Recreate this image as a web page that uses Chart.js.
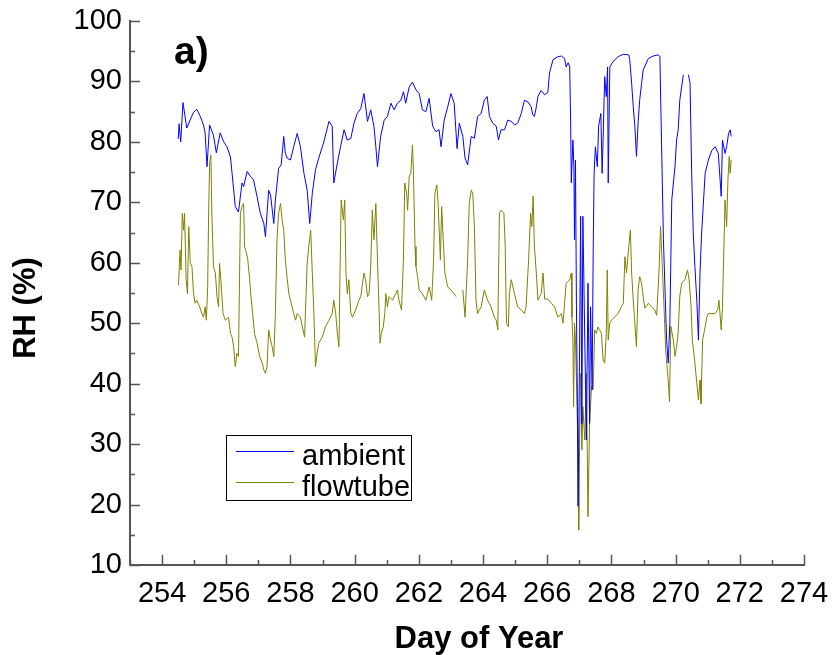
<!DOCTYPE html>
<html>
<head>
<meta charset="utf-8">
<script src="https://cdn.jsdelivr.net/npm/chart.js@4"></script>
<style>
  html, body { margin: 0; padding: 0; background: #fff; }
  #wrap { width: 834px; height: 655px; }
</style>
</head>
<body>
<div id="wrap"><canvas id="rhChart" width="834" height="655"></canvas></div>
<script>
// ambient RH (day of year, %)
const ambientDay = [254.50, 254.53, 254.58, 254.65, 254.77, 254.97, 255.08, 255.19, 255.29, 255.34, 255.40, 255.48, 255.60, 255.69, 255.81, 255.92,
  256.02, 256.13, 256.18, 256.28, 256.38, 256.49, 256.54, 256.65, 256.75, 256.85, 256.96, 257.06, 257.17, 257.22, 257.32, 257.38,
  257.48, 257.53, 257.63, 257.71, 257.79, 257.84, 257.90, 258.00, 258.10, 258.21, 258.31, 258.42, 258.52, 258.60, 258.68, 258.78,
  258.88, 259.04, 259.20, 259.30, 259.35, 259.46, 259.56, 259.67, 259.77, 259.88, 259.98, 260.08, 260.19, 260.29, 260.40, 260.50,
  260.60, 260.66, 260.71, 260.81, 260.92, 261.02, 261.13, 261.23, 261.33, 261.44, 261.52, 261.59, 261.70, 261.80, 261.91, 262.01,
  262.11, 262.22, 262.32, 262.43, 262.53, 262.63, 262.69, 262.79, 262.90, 263.00, 263.10, 263.19, 263.26, 263.37, 263.44, 263.52,
  263.63, 263.73, 263.83, 263.94, 264.04, 264.13, 264.20, 264.30, 264.41, 264.48, 264.56, 264.67, 264.77, 264.88, 264.98, 265.08,
  265.19, 265.29, 265.40, 265.50, 265.55, 265.60, 265.66, 265.71, 265.81, 265.92, 266.02, 266.07, 266.18, 266.33, 266.44, 266.54,
  266.59, 266.65, 266.70, 266.73, 266.75, 266.80, 266.83, 266.85, 266.88, 266.91, 266.94, 266.96, 267.01, 267.04, 267.08, 267.11,
  267.17, 267.22, 267.27, 267.32, 267.35, 267.40, 267.43, 267.46, 267.50, 267.56, 267.60, 267.67, 267.71, 267.74, 267.79, 267.84,
  267.88, 267.90, 267.95, 268.05, 268.21, 268.37, 268.54, 268.57, 268.63, 268.68, 268.73, 268.78, 268.83, 268.88, 268.94, 268.99,
  269.15, 269.30, 269.46, 269.51, 269.56, 269.62, 269.67, 269.72, 269.77, 269.82, 269.88, 269.98, 270.03, 270.08, 270.13, 270.24,
  270.35, 270.40, 270.45, 270.50, 270.55, 270.60, 270.66, 270.71, 270.76, 270.81, 270.92, 271.02, 271.13, 271.23, 271.33, 271.42,
  271.46, 271.54, 271.59, 271.65, 271.70, 271.73];
const ambientRH = [80.5, 83.0, 80.0, 86.5, 82.3, 84.8, 85.4, 84.2, 82.8, 81.5, 75.9, 82.8, 81.1, 78.2, 81.5, 80.0,
  79.2, 77.5, 74.8, 69.3, 68.4, 73.2, 72.6, 75.1, 74.3, 73.7, 70.9, 68.2, 66.5, 64.3, 72.0, 71.2,
  66.5, 70.4, 75.6, 76.2, 80.9, 78.1, 77.3, 77.0, 79.2, 81.4, 79.2, 74.8, 72.0, 66.5, 71.5, 75.4,
  77.3, 80.0, 83.4, 82.6, 73.2, 76.5, 79.2, 82.0, 80.3, 80.6, 83.1, 84.7, 85.5, 88.0, 83.4, 85.3,
  82.6, 79.2, 75.9, 80.9, 83.6, 84.2, 86.4, 85.3, 86.4, 86.9, 88.3, 86.4, 89.1, 89.9, 88.6, 88.0,
  85.3, 85.0, 87.2, 82.6, 81.7, 82.0, 79.2, 83.6, 85.8, 88.0, 86.4, 78.9, 83.1, 80.9, 77.3, 76.2,
  80.9, 80.6, 84.2, 84.7, 86.9, 87.5, 84.2, 83.1, 82.6, 80.3, 82.0, 82.0, 83.6, 83.4, 82.8, 83.1,
  84.7, 86.9, 86.6, 85.8, 84.5, 84.2, 85.8, 87.5, 88.5, 87.8, 88.2, 91.4, 93.6, 94.1, 94.2, 93.8,
  92.4, 93.1, 92.4, 83.1, 73.2, 80.3, 75.9, 63.8, 77.0, 52.7, 36.2, 19.7, 47.2, 67.7, 33.4, 67.7,
  47.2, 30.7, 56.6, 33.4, 52.7, 39.0, 61.0, 74.8, 79.2, 75.9, 82.6, 84.7, 74.8, 80.3, 90.8, 87.5,
  92.4, 73.2, 92.4, 93.3, 94.1, 94.5, 94.4, 93.6, 89.7, 85.8, 82.6, 77.6, 83.1, 86.9, 89.7, 91.9,
  93.8, 94.2, 94.4, 94.1, 80.3, 63.8, 55.5, 47.2, 43.4, 50.0, 70.4, 75.9, 80.3, 82.0, 86.9, 91.1,
  null, 91.1, 89.7, 74.8, 64.9, 59.4, 53.8, 47.2, 58.3, 64.9, 74.8, 77.0, 78.6, 79.2, 78.1, 71.0,
  80.3, 78.1, 79.2, 81.4, 82.0, 80.9];

// flowtube RH (day of year, %)
const flowDay = [254.51, 254.56, 254.59, 254.63, 254.67, 254.70, 254.75, 254.79, 254.83, 254.88, 254.93, 254.98, 255.03, 255.08, 255.17, 255.24,
  255.29, 255.34, 255.38, 255.42, 255.45, 255.48, 255.52, 255.55, 255.60, 255.66, 255.71, 255.76, 255.79, 255.83, 255.90, 255.97,
  256.07, 256.13, 256.18, 256.23, 256.28, 256.33, 256.38, 256.44, 256.49, 256.54, 256.57, 256.63, 256.67, 256.73, 256.77, 256.81,
  256.88, 256.96, 257.04, 257.12, 257.17, 257.22, 257.27, 257.32, 257.38, 257.43, 257.48, 257.53, 257.58, 257.63, 257.69, 257.74,
  257.79, 257.84, 257.90, 257.95, 258.00, 258.05, 258.10, 258.16, 258.21, 258.31, 258.37, 258.44, 258.52, 258.57, 258.63, 258.68,
  258.73, 258.78, 258.83, 258.88, 258.99, 259.09, 259.20, 259.30, 259.35, 259.41, 259.46, 259.51, 259.54, 259.58, 259.65, 259.69,
  259.73, 259.77, 259.82, 259.88, 259.93, 260.03, 260.13, 260.19, 260.29, 260.34, 260.40, 260.45, 260.50, 260.55, 260.60, 260.66,
  260.71, 260.76, 260.79, 260.83, 260.89, 260.94, 260.97, 261.02, 261.07, 261.18, 261.28, 261.33, 261.38, 261.46, 261.52, 261.56,
  261.62, 261.65, 261.70, 261.75, 261.80, 261.83, 261.88, 261.91, 261.96, 262.01, 262.11, 262.22, 262.32, 262.40, 262.46, 262.50,
  262.56, 262.60, 262.65, 262.67, 262.71, 262.77, 262.81, 262.90, 263.00, 263.10, 263.16, 263.30, 263.37, 263.44, 263.52, 263.57,
  263.63, 263.68, 263.73, 263.78, 263.83, 263.94, 264.04, 264.14, 264.25, 264.35, 264.41, 264.46, 264.51, 264.56, 264.65, 264.69,
  264.73, 264.79, 264.82, 264.88, 264.98, 265.08, 265.19, 265.29, 265.34, 265.42, 265.48, 265.52, 265.56, 265.60, 265.66, 265.71,
  265.81, 265.87, 265.92, 266.02, 266.13, 266.23, 266.33, 266.44, 266.49, 266.54, 266.59, 266.70, 266.75, 266.77, 266.80, 266.82,
  266.85, 266.88, 266.93, 266.96, 266.98, 267.01, 267.04, 267.08, 267.11, 267.17, 267.22, 267.27, 267.32, 267.38, 267.43, 267.48,
  267.53, 267.58, 267.63, 267.69, 267.74, 267.79, 267.84, 267.87, 267.90, 267.95, 268.00, 268.10, 268.21, 268.31, 268.37, 268.42,
  268.47, 268.54, 268.59, 268.63, 268.68, 268.73, 268.78, 268.83, 268.88, 268.94, 268.99, 269.04, 269.15, 269.25, 269.35, 269.41,
  269.48, 269.53, 269.58, 269.63, 269.69, 269.73, 269.77, 269.81, 269.85, 269.93, 269.98, 270.03, 270.08, 270.13, 270.19, 270.29,
  270.37, 270.42, 270.48, 270.52, 270.58, 270.66, 270.71, 270.76, 270.79, 270.84, 270.92, 270.97, 271.02, 271.13, 271.23, 271.31,
  271.35, 271.42, 271.46, 271.50, 271.54, 271.59, 271.63, 271.67, 271.70, 271.73];
const flowRH = [56.3, 62.1, 58.8, 68.2, 65.4, 68.2, 57.2, 54.9, 66.0, 59.9, 59.4, 54.9, 53.3, 53.8, 52.7, 51.6,
  51.0, 52.7, 50.5, 56.0, 68.2, 76.5, 77.8, 68.2, 59.4, 58.3, 54.4, 52.7, 59.9, 57.2, 51.6, 50.5,
  51.0, 48.3, 47.7, 46.1, 42.8, 45.0, 44.5, 68.2, 69.3, 69.8, 62.7, 61.6, 60.5, 57.2, 54.4, 52.2,
  48.3, 46.7, 44.5, 43.4, 42.3, 41.7, 42.8, 48.9, 47.2, 46.1, 44.5, 51.6, 63.8, 68.2, 69.8, 67.1,
  65.4, 60.5, 57.2, 54.9, 53.8, 52.7, 51.6, 50.5, 51.6, 51.0, 49.4, 47.7, 59.9, 62.7, 65.4, 58.3,
  51.6, 42.8, 45.0, 46.7, 47.7, 49.4, 50.5, 51.6, 53.8, 51.6, 48.3, 46.1, 57.2, 70.4, 67.1, 70.4,
  58.3, 54.9, 57.2, 51.6, 51.0, 52.2, 53.8, 54.4, 58.3, 57.2, 54.4, 54.9, 59.4, 68.7, 63.8, 69.8,
  60.5, 52.2, 46.7, 48.3, 49.4, 51.6, 54.9, 52.7, 54.4, 53.8, 54.9, 55.5, 53.8, 52.2, 60.5, 73.2,
  71.5, 68.7, 74.3, 74.8, 79.5, 75.4, 62.7, 59.4, 57.7, 55.5, 54.9, 53.8, 56.0, 53.8, 60.5, 71.5,
  72.9, 69.8, 63.2, 60.5, 69.3, 62.7, 58.3, 56.0, 55.5, 54.9, 54.4, null, 55.5, 51.0, 60.5, 69.8,
  72.0, 71.5, 66.0, 53.8, 51.6, 52.7, 55.5, 53.8, 52.7, 51.0, 50.5, 48.9, 68.2, 68.7, 68.2, 62.7,
  50.0, 49.4, 54.9, 57.2, 54.9, 52.7, 52.2, 51.6, 52.7, 60.5, 68.2, 66.0, 71.0, 62.7, 58.3, 53.8,
  54.9, 58.3, 54.0, 54.0, 53.3, 52.7, 51.0, 51.6, 50.0, 53.3, 56.6, 57.2, 58.3, 51.0, 47.2, 36.2,
  50.0, 47.2, 36.2, 27.9, 15.8, 30.7, 41.7, 29.0, 36.2, 30.7, 41.7, 18.0, 33.4, 39.5, 39.0, 48.9,
  48.3, 49.4, 48.9, 48.3, 43.9, 43.4, 48.3, 58.8, 47.2, 50.0, 50.5, 51.0, 51.6, 52.7, 53.3, 61.0,
  58.3, 62.7, 65.4, 58.3, 53.8, 50.0, 46.1, 55.5, 57.7, 56.6, 54.4, 52.5, 53.3, 52.7, 52.2, 51.3,
  58.3, 66.0, 60.0, 53.8, 45.6, 43.0, 40.5, 37.0, 49.5, 47.2, 44.5, 46.1, 48.5, 54.5, 56.6, 57.2,
  58.8, 57.2, 53.0, 47.2, 44.5, 40.1, 37.3, 40.6, 36.7, 47.2, 49.4, 51.0, 51.6, 51.6, 51.6, 52.2,
  53.8, 48.9, 52.7, 61.6, 70.4, 66.0, 73.7, 77.6, 74.8, 77.0];

const xTicks = [254, 256, 258, 260, 262, 264, 266, 268, 270, 272, 274];
const xMinorTicks = [253, 255, 257, 259, 261, 263, 265, 267, 269, 271, 273];
const yTicks = [10, 20, 30, 40, 50, 60, 70, 80, 90, 100];
const yMinorTicks = [15, 25, 35, 45, 55, 65, 75, 85, 95];

const FONT = '"Liberation Sans", Arial, sans-serif';
const AXIS_COLOR = '#555';

function toPoints(xs, ys) {
  return xs.map((x, i) => ({ x: x, y: ys[i] }));
}

// inward ticks, axis titles, legend box and panel label
const decorations = {
  id: 'decorations',
  afterDraw(chart) {
    const ctx = chart.ctx;
    const xs = chart.scales.x, ys = chart.scales.y;
    const area = chart.chartArea;
    ctx.save();
    ctx.strokeStyle = AXIS_COLOR;
    ctx.lineWidth = 1.5;
    ctx.beginPath();
    xTicks.concat(xMinorTicks).forEach(v => {
      const len = xTicks.includes(v) ? 10 : 5;
      const px = Math.round(xs.getPixelForValue(v)) + 0.5;
      ctx.moveTo(px, area.bottom);
      ctx.lineTo(px, area.bottom - len);
    });
    yTicks.concat(yMinorTicks).forEach(v => {
      const len = yTicks.includes(v) ? 10 : 5;
      const py = Math.round(ys.getPixelForValue(v)) + 0.5;
      ctx.moveTo(area.left, py);
      ctx.lineTo(area.left + len, py);
    });
    ctx.stroke();

    // axis titles
    ctx.fillStyle = '#000';
    ctx.font = 'bold 31px ' + FONT;
    ctx.textAlign = 'center';
    ctx.textBaseline = 'middle';
    ctx.fillText('Day of Year', 479, 639);
    ctx.save();
    ctx.translate(26, 308);
    ctx.rotate(-Math.PI / 2);
    ctx.fillText('RH (%)', 0, 0);
    ctx.restore();

    // legend
    ctx.textAlign = 'left';
    ctx.textBaseline = 'alphabetic';
    ctx.strokeStyle = '#000';
    ctx.lineWidth = 1;
    ctx.strokeRect(226.5, 435.5, 185, 65);
    ctx.font = '29px ' + FONT;
    chart.data.datasets.forEach((ds, i) => {
      const ly = 451 + i * 31;
      ctx.strokeStyle = ds.borderColor;
      ctx.beginPath();
      ctx.moveTo(236, ly + 0.5);
      ctx.lineTo(294, ly + 0.5);
      ctx.stroke();
      ctx.fillText(ds.label, 302, ly + 14);
    });

    // panel label
    ctx.font = 'bold 39px ' + FONT;
    ctx.fillText('a)', 174, 64);
    ctx.restore();
  }
};

new Chart(document.getElementById('rhChart'), {
  type: 'line',
  data: {
    datasets: [
      {
        label: 'ambient',
        data: toPoints(ambientDay, ambientRH),
        borderColor: '#0000ff',
        borderWidth: 1
      },
      {
        label: 'flowtube',
        data: toPoints(flowDay, flowRH),
        borderColor: '#808000',
        borderWidth: 1
      }
    ]
  },
  options: {
    responsive: false,
    animation: false,
    devicePixelRatio: 1,
    layout: { padding: { top: 21, right: 30, left: 0, bottom: 0 } },
    elements: { point: { radius: 0 }, line: { tension: 0 } },
    plugins: { legend: { display: false }, tooltip: { enabled: false } },
    scales: {
      x: {
        type: 'linear',
        min: 253,
        max: 274,
        afterBuildTicks: s => { s.ticks = xTicks.map(v => ({ value: v })); },
        afterFit: s => { s.height = 90; s.paddingLeft = 0; s.paddingRight = 0; },
        grid: { display: false, drawTicks: false },
        border: { display: true, color: AXIS_COLOR, width: 2 },
        ticks: { color: '#000', font: { family: FONT, size: 29 }, padding: 12, maxRotation: 0 }
      },
      y: {
        min: 10,
        max: 100,
        afterBuildTicks: s => { s.ticks = yTicks.map(v => ({ value: v })); },
        afterFit: s => { s.width = 130; s.paddingTop = 0; s.paddingBottom = 0; },
        grid: { display: false, drawTicks: false },
        border: { display: true, color: AXIS_COLOR, width: 2 },
        ticks: { color: '#000', font: { family: FONT, size: 29 }, padding: 8 }
      }
    }
  },
  plugins: [decorations]
});
</script>
</body>
</html>
